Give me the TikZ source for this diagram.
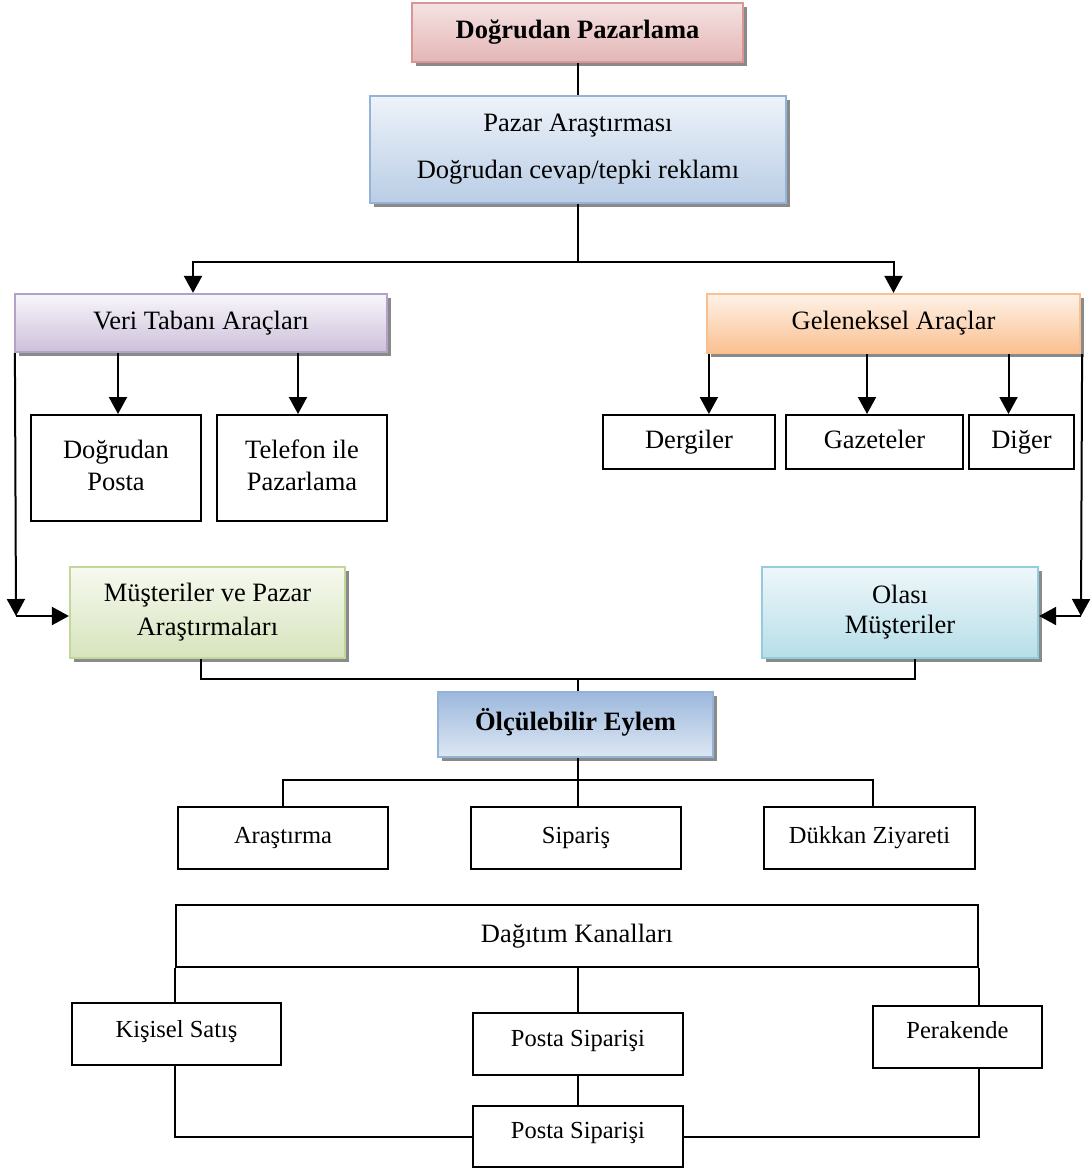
\documentclass[tikz,border=0pt]{standalone}
\usepackage{fontspec}
\setmainfont{Liberation Serif}
\usetikzlibrary{arrows.meta,shadows}
\definecolor{pinkT}{HTML}{F5E2E2}\definecolor{pinkB}{HTML}{E4B6B6}\definecolor{pinkL}{HTML}{D99694}
\definecolor{blueT}{HTML}{EEF3FA}\definecolor{blueB}{HTML}{B9CDE5}\definecolor{blueL}{HTML}{95B3D7}
\definecolor{purT}{HTML}{F8F6FB}\definecolor{purB}{HTML}{CCC0DA}\definecolor{purL}{HTML}{B3A2C7}
\definecolor{orT}{HTML}{FEF2E8}\definecolor{orB}{HTML}{FAC090}\definecolor{orL}{HTML}{FAC090}
\definecolor{grT}{HTML}{F6F9EF}\definecolor{grB}{HTML}{D7E4BD}\definecolor{grL}{HTML}{C3D69B}
\definecolor{cyT}{HTML}{EEF7FA}\definecolor{cyB}{HTML}{B7DEE8}\definecolor{cyL}{HTML}{93CDDD}
\definecolor{olT}{HTML}{9CB8DD}\definecolor{olB}{HTML}{DDE7F3}
\definecolor{shad}{HTML}{8A8A8A}
\tikzset{
  base/.style={rectangle, inner sep=0pt, align=center, font=\fontsize{26.5}{32}\selectfont},
  one/.style={text height=18pt, text depth=6pt},
  sone/.style={text height=16.5pt, text depth=5.5pt},
  cbox/.style={base, line width=2.2pt, drop shadow={shadow xshift=4pt, shadow yshift=-4pt, fill=shad, opacity=1}},
  pinkbox/.style={cbox, draw=pinkL, top color=pinkT, bottom color=pinkB},
  bluebox/.style={cbox, draw=blueL, top color=blueT, bottom color=blueB},
  purbox/.style={cbox, draw=purL, top color=purT, bottom color=purB},
  orbox/.style={cbox, draw=orL, top color=orT, bottom color=orB},
  grbox/.style={cbox, draw=grL, top color=grT, bottom color=grB},
  cybox/.style={cbox, draw=cyL, top color=cyT, bottom color=cyB},
  olbox/.style={cbox, draw=blueL, top color=olT, bottom color=olB},
  bbox/.style={base, draw=black, line width=2pt, fill=white},
  sbox/.style={bbox, font=\fontsize{24.5}{30}\selectfont},
  conn/.style={line width=2pt, draw=black},
  arr/.style={conn, -{Triangle[width=18pt,length=17pt]}},
}
\begin{document}
\begin{tikzpicture}[x=1pt,y=-1pt]
\useasboundingbox (0,0) rectangle (1091,1172);
\fill[white] (0,0) rectangle (1091,1172);

% nodes
\node[pinkbox, one, minimum width=331pt, minimum height=59pt, font=\bfseries\fontsize{26.5}{32}\selectfont] (dp) at (577.5,32.5) {Doğrudan Pazarlama};
\node[bluebox, minimum width=416pt, minimum height=107pt, font=\fontsize{26.5}{47}\selectfont] (pa) at (578,149.5) {Pazar Araştırması\\Doğrudan cevap/tepki reklamı};
\node[purbox, one, minimum width=372pt, minimum height=58pt] (veri) at (201,323) {Veri Tabanı Araçları};
\node[orbox, one, minimum width=373pt, minimum height=59pt] (gel) at (893.5,323.5) {Geleneksel Araçlar};
\node[bbox, minimum width=170pt, minimum height=106pt] (dpost) at (116,468) {\raisebox{9pt}{\begin{tabular}{@{}c@{}}Doğrudan\\Posta\end{tabular}}};
\node[bbox, minimum width=170pt, minimum height=106pt] (tel) at (302,468) {\raisebox{9pt}{\begin{tabular}{@{}c@{}}Telefon ile\\Pazarlama\end{tabular}}};
\node[bbox, one, minimum width=172pt, minimum height=54pt] (derg) at (689,442) {Dergiler};
\node[bbox, one, minimum width=177pt, minimum height=54pt] (gaz) at (874.5,442) {Gazeteler};
\node[bbox, one, minimum width=105pt, minimum height=54pt] (diger) at (1021.5,442) {Diğer};
\node[grbox, minimum width=275pt, minimum height=91pt, font=\fontsize{26.5}{34}\selectfont] (mus) at (207.5,612.5) {Müşteriler ve Pazar\\Araştırmaları};
\node[cybox, minimum width=276pt, minimum height=91pt, font=\fontsize{26.5}{30}\selectfont] (olasi) at (900,612.5) {Olası\\Müşteriler};
\node[olbox, one, minimum width=275pt, minimum height=65pt, font=\bfseries\fontsize{26.5}{32}\selectfont] (olc) at (575.5,724.5) {Ölçülebilir Eylem};
\node[sbox, sone, minimum width=210pt, minimum height=62pt] (aras) at (283,838) {Araştırma};
\node[sbox, sone, minimum width=210pt, minimum height=62pt] (sip) at (576,838) {Sipariş};
\node[sbox, sone, minimum width=211pt, minimum height=62pt] (dukkan) at (869.5,838) {Dükkan Ziyareti};
\node[bbox, one, minimum width=802pt, minimum height=62pt] (dag) at (577,936) {Dağıtım Kanalları};
\node[sbox, sone, minimum width=209pt, minimum height=62pt] (kis) at (176.5,1034) {\raisebox{2pt}{Kişisel Satış}};
\node[sbox, sone, minimum width=210pt, minimum height=62pt] (ps1) at (578,1044) {\raisebox{3pt}{Posta Siparişi}};
\node[sbox, sone, minimum width=169pt, minimum height=62pt] (per) at (957.5,1037) {\raisebox{4pt}{Perakende}};
\node[sbox, sone, minimum width=210pt, minimum height=61pt] (ps2) at (578,1136.5) {\raisebox{4pt}{Posta Siparişi}};

% connectors
\coordinate (t1) at (578,262);
\draw[conn] (dp.south) -- (dp.south |- pa.north);
\draw[conn] (pa.south) -- (t1);
\draw[arr] (t1) -| ([xshift=-8pt]veri.north);
\draw[arr] (t1) -| (gel.north);
\draw[arr] ([xshift=2pt]dpost.north |- veri.south) -- ([xshift=2pt]dpost.north);
\draw[arr] ([xshift=-4pt]tel.north |- veri.south) -- ([xshift=-4pt]tel.north);
\draw[arr] ([xshift=3pt]gel.south west) -- ([xshift=3pt]gel.south west |- derg.north);
\draw[arr] ([xshift=-26.5pt]gel.south) -- ([xshift=-26.5pt]gel.south |- gaz.north);
\draw[arr] ([xshift=115pt]gel.south) -- ([xshift=115pt]gel.south |- diger.north);
% side loops
\coordinate (lc) at (16,616);
\coordinate (rc) at (1081,616);
\draw[arr] ([xshift=1pt]veri.south west) -- (lc);
\draw[arr] (lc) -- (lc -| mus.west);
\draw[arr] ([xshift=1pt]gel.south east) -- (rc);
\draw[arr] (rc) -- (rc -| olasi.east);
% to Olculebilir
\coordinate (j1) at (578,679);
\draw[conn] ([xshift=-6.5pt]mus.south) |- (j1) -| ([xshift=15pt]olasi.south);
\draw[conn] (j1) -- (j1 |- olc.north);
\coordinate (j2) at (578,780);
\draw[conn] (j2 |- olc.south) -- (j2);
\draw[conn] (aras.north) |- (j2) -| ([xshift=3.5pt]dukkan.north);
\draw[conn] (j2) -- (j2 |- sip.north);
% distribution
\draw[conn] (dag.south west) -- (dag.south west |- kis.north);
\draw[conn] ([xshift=1pt]dag.south) -- ([xshift=1pt]dag.south |- ps1.north);
\draw[conn] (dag.south east) -- (dag.south east |- per.north);
\draw[conn] (dag.south west |- kis.south) |- (ps2.west);
\draw[conn] (dag.south east |- per.south) |- (ps2.east);
\draw[conn] (ps1.south) -- (ps2.north);
\end{tikzpicture}
\end{document}
